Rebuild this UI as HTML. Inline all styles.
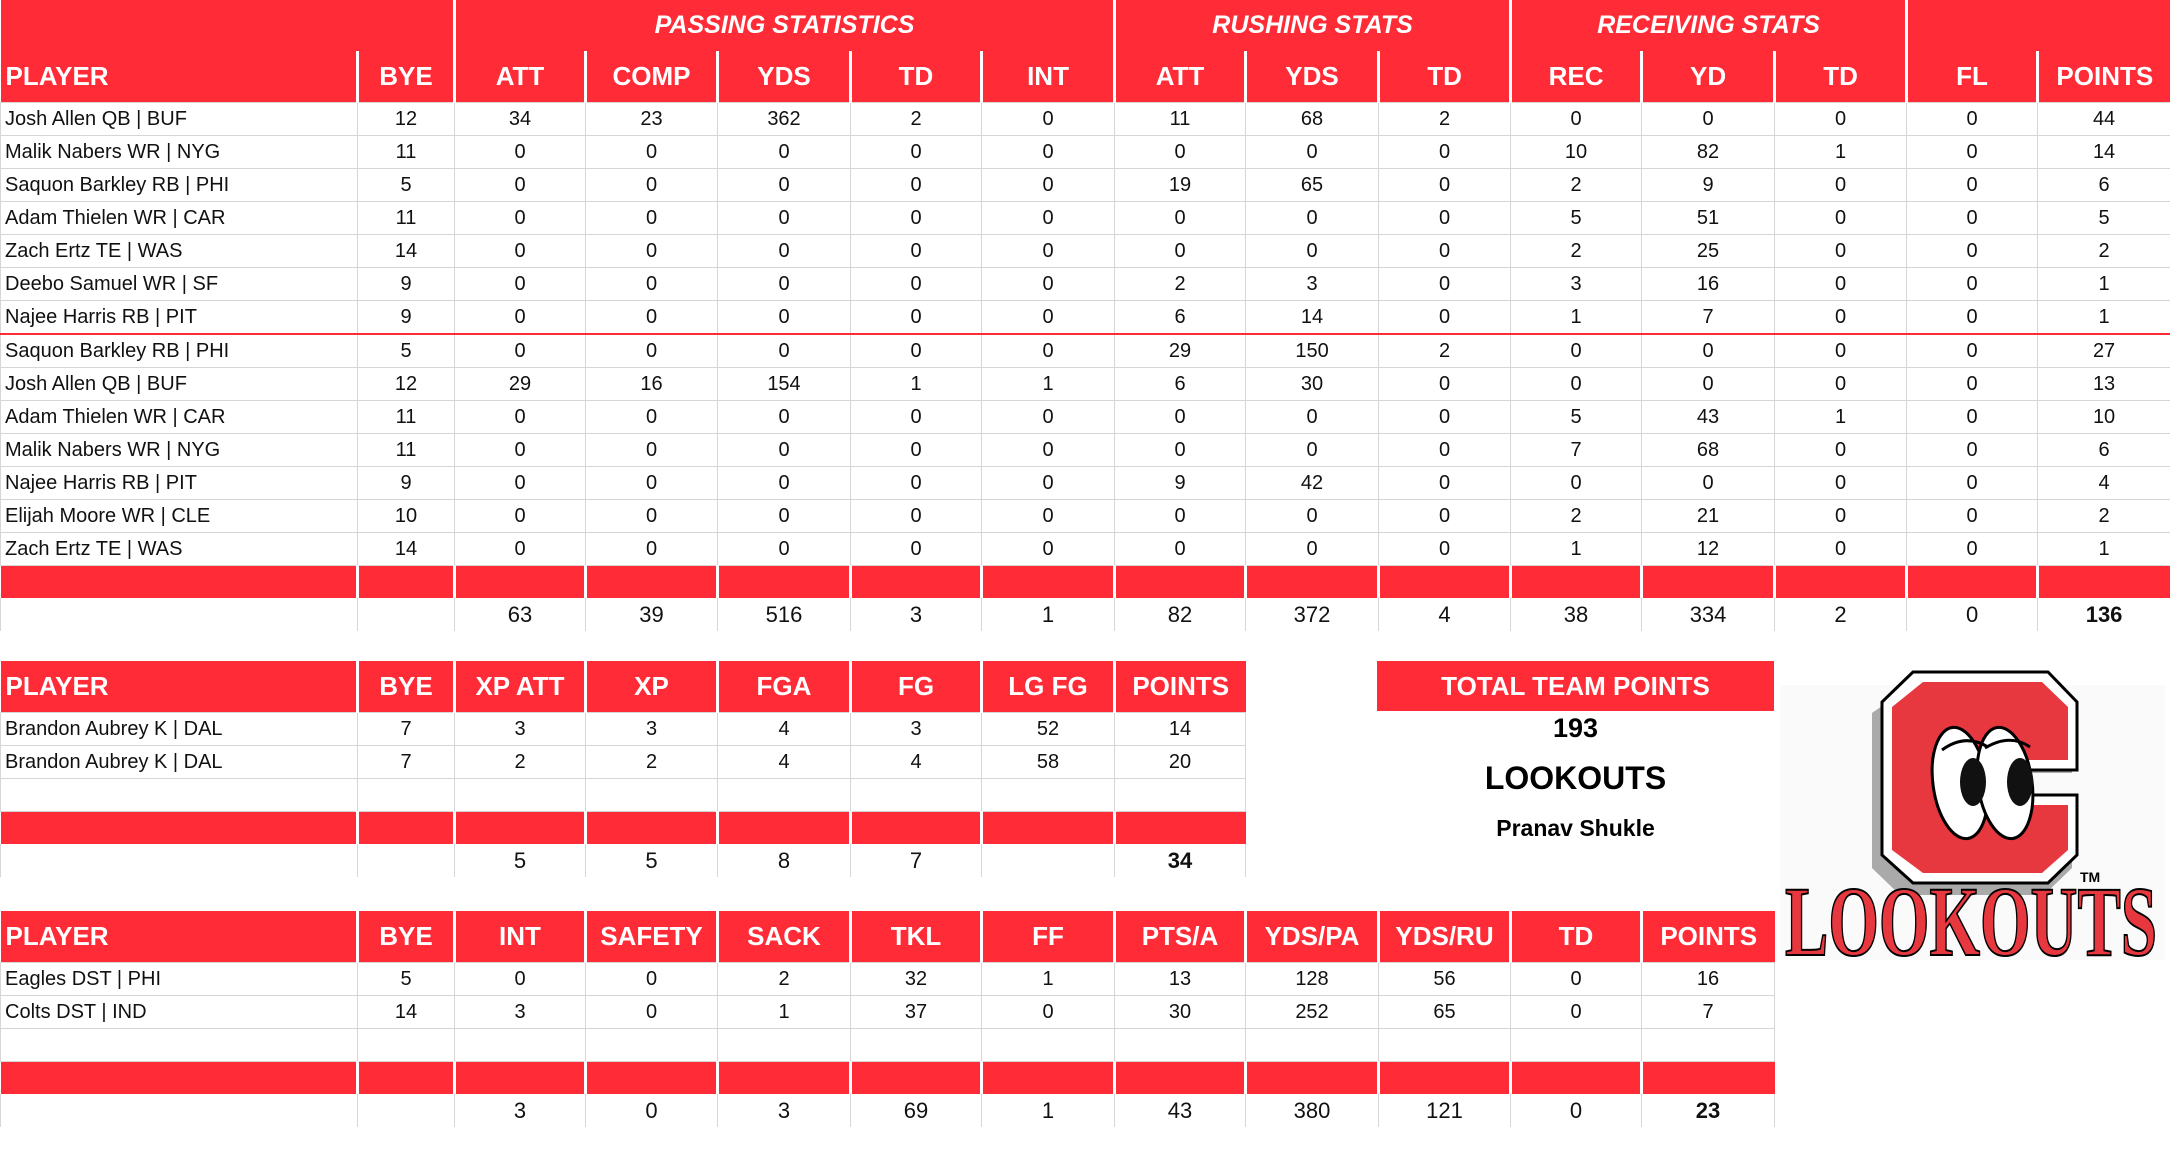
<!DOCTYPE html>
<html><head><meta charset="utf-8"><style>
body{margin:0;width:2170px;height:1158px;background:#fff;position:relative;overflow:hidden;font-family:"Liberation Sans",sans-serif;}
table{position:absolute;left:0;border-collapse:collapse;table-layout:fixed;}
td{padding:0;text-align:center;border:1px solid #d6d6d6;font-size:20px;color:#111;overflow:hidden;white-space:nowrap;}
tr.d td{height:32px;}
td.p{text-align:left;padding-left:4px;}
tr.sep td{border-bottom:2px solid #ff2b36;}
tr.g td{background:#ff2b36;color:#fff;font-weight:bold;font-style:italic;font-size:25px;height:51px;border:none;border-left:3px solid #fff;border-right:3px solid #fff;}
tr.h td{background:#ff2b36;color:#fff;font-weight:bold;font-size:26px;height:51px;border:none;border-left:3px solid #fff;border-right:3px solid #fff;}
tr.h td.p{text-align:left;padding-left:5px;}
tr.r td{background:#ff2b36;height:32px;border:none;border-left:3px solid #fff;border-right:3px solid #fff;}
tr.t td{height:33px;border-top:none;border-bottom:none;font-size:22px;}
td.b{font-weight:bold;}
tr.blank td{height:32px;}
.box{position:absolute;left:1377px;top:661px;width:397px;height:50px;background:#ff2b36;color:#fff;font-weight:bold;font-size:26px;text-align:center;line-height:50px;}
.tx{position:absolute;left:1377px;width:397px;text-align:center;font-weight:bold;color:#000;}
</style></head><body>
<table style="top:0;width:2170px">
<colgroup><col style="width:357px"><col style="width:97px"><col style="width:131px"><col style="width:132px"><col style="width:133px"><col style="width:131px"><col style="width:133px"><col style="width:131px"><col style="width:133px"><col style="width:132px"><col style="width:131px"><col style="width:133px"><col style="width:132px"><col style="width:131px"><col style="width:133px"></colgroup>
<tr class="g"><td colspan="2" style="border-left:none"></td><td colspan="5">PASSING STATISTICS</td><td colspan="3">RUSHING STATS</td><td colspan="3">RECEIVING STATS</td><td colspan="2" style="border-right:none"></td></tr>
<tr class="h"><td class="p" style="border-left:none">PLAYER</td><td>BYE</td><td>ATT</td><td>COMP</td><td>YDS</td><td>TD</td><td>INT</td><td>ATT</td><td>YDS</td><td>TD</td><td>REC</td><td>YD</td><td>TD</td><td>FL</td><td style="border-right:none">POINTS</td></tr>
<tr class="d"><td class="p">Josh Allen QB | BUF</td><td>12</td><td>34</td><td>23</td><td>362</td><td>2</td><td>0</td><td>11</td><td>68</td><td>2</td><td>0</td><td>0</td><td>0</td><td>0</td><td>44</td></tr>
<tr class="d"><td class="p">Malik Nabers WR | NYG</td><td>11</td><td>0</td><td>0</td><td>0</td><td>0</td><td>0</td><td>0</td><td>0</td><td>0</td><td>10</td><td>82</td><td>1</td><td>0</td><td>14</td></tr>
<tr class="d"><td class="p">Saquon Barkley RB | PHI</td><td>5</td><td>0</td><td>0</td><td>0</td><td>0</td><td>0</td><td>19</td><td>65</td><td>0</td><td>2</td><td>9</td><td>0</td><td>0</td><td>6</td></tr>
<tr class="d"><td class="p">Adam Thielen WR | CAR</td><td>11</td><td>0</td><td>0</td><td>0</td><td>0</td><td>0</td><td>0</td><td>0</td><td>0</td><td>5</td><td>51</td><td>0</td><td>0</td><td>5</td></tr>
<tr class="d"><td class="p">Zach Ertz TE | WAS</td><td>14</td><td>0</td><td>0</td><td>0</td><td>0</td><td>0</td><td>0</td><td>0</td><td>0</td><td>2</td><td>25</td><td>0</td><td>0</td><td>2</td></tr>
<tr class="d"><td class="p">Deebo Samuel WR | SF</td><td>9</td><td>0</td><td>0</td><td>0</td><td>0</td><td>0</td><td>2</td><td>3</td><td>0</td><td>3</td><td>16</td><td>0</td><td>0</td><td>1</td></tr>
<tr class="d sep"><td class="p">Najee Harris RB | PIT</td><td>9</td><td>0</td><td>0</td><td>0</td><td>0</td><td>0</td><td>6</td><td>14</td><td>0</td><td>1</td><td>7</td><td>0</td><td>0</td><td>1</td></tr>
<tr class="d"><td class="p">Saquon Barkley RB | PHI</td><td>5</td><td>0</td><td>0</td><td>0</td><td>0</td><td>0</td><td>29</td><td>150</td><td>2</td><td>0</td><td>0</td><td>0</td><td>0</td><td>27</td></tr>
<tr class="d"><td class="p">Josh Allen QB | BUF</td><td>12</td><td>29</td><td>16</td><td>154</td><td>1</td><td>1</td><td>6</td><td>30</td><td>0</td><td>0</td><td>0</td><td>0</td><td>0</td><td>13</td></tr>
<tr class="d"><td class="p">Adam Thielen WR | CAR</td><td>11</td><td>0</td><td>0</td><td>0</td><td>0</td><td>0</td><td>0</td><td>0</td><td>0</td><td>5</td><td>43</td><td>1</td><td>0</td><td>10</td></tr>
<tr class="d"><td class="p">Malik Nabers WR | NYG</td><td>11</td><td>0</td><td>0</td><td>0</td><td>0</td><td>0</td><td>0</td><td>0</td><td>0</td><td>7</td><td>68</td><td>0</td><td>0</td><td>6</td></tr>
<tr class="d"><td class="p">Najee Harris RB | PIT</td><td>9</td><td>0</td><td>0</td><td>0</td><td>0</td><td>0</td><td>9</td><td>42</td><td>0</td><td>0</td><td>0</td><td>0</td><td>0</td><td>4</td></tr>
<tr class="d"><td class="p">Elijah Moore WR | CLE</td><td>10</td><td>0</td><td>0</td><td>0</td><td>0</td><td>0</td><td>0</td><td>0</td><td>0</td><td>2</td><td>21</td><td>0</td><td>0</td><td>2</td></tr>
<tr class="d"><td class="p">Zach Ertz TE | WAS</td><td>14</td><td>0</td><td>0</td><td>0</td><td>0</td><td>0</td><td>0</td><td>0</td><td>0</td><td>1</td><td>12</td><td>0</td><td>0</td><td>1</td></tr>
<tr class="r"><td style="border-left:none"></td><td></td><td></td><td></td><td></td><td></td><td></td><td></td><td></td><td></td><td></td><td></td><td></td><td></td><td style="border-right:none"></td></tr>
<tr class="t"><td></td><td></td><td>63</td><td>39</td><td>516</td><td>3</td><td>1</td><td>82</td><td>372</td><td>4</td><td>38</td><td>334</td><td>2</td><td>0</td><td class="b">136</td></tr>
</table>

<table style="top:661px;width:1245px">
<colgroup><col style="width:357px"><col style="width:97px"><col style="width:131px"><col style="width:132px"><col style="width:133px"><col style="width:131px"><col style="width:133px"><col style="width:131px"></colgroup>
<tr class="h"><td class="p" style="border-left:none">PLAYER</td><td>BYE</td><td>XP ATT</td><td>XP</td><td>FGA</td><td>FG</td><td>LG FG</td><td style="border-right:none">POINTS</td></tr>
<tr class="d"><td class="p">Brandon Aubrey K | DAL</td><td>7</td><td>3</td><td>3</td><td>4</td><td>3</td><td>52</td><td>14</td></tr>
<tr class="d"><td class="p">Brandon Aubrey K | DAL</td><td>7</td><td>2</td><td>2</td><td>4</td><td>4</td><td>58</td><td>20</td></tr>
<tr class="d blank"><td></td><td></td><td></td><td></td><td></td><td></td><td></td><td></td></tr>
<tr class="r"><td style="border-left:none"></td><td></td><td></td><td></td><td></td><td></td><td></td><td style="border-right:none"></td></tr>
<tr class="t"><td></td><td></td><td>5</td><td>5</td><td>8</td><td>7</td><td></td><td class="b">34</td></tr>
</table>

<table style="top:911px;width:1774px">
<colgroup><col style="width:357px"><col style="width:97px"><col style="width:131px"><col style="width:132px"><col style="width:133px"><col style="width:131px"><col style="width:133px"><col style="width:131px"><col style="width:133px"><col style="width:132px"><col style="width:131px"><col style="width:133px"></colgroup>
<tr class="h"><td class="p" style="border-left:none">PLAYER</td><td>BYE</td><td>INT</td><td>SAFETY</td><td>SACK</td><td>TKL</td><td>FF</td><td>PTS/A</td><td>YDS/PA</td><td>YDS/RU</td><td>TD</td><td style="border-right:none">POINTS</td></tr>
<tr class="d"><td class="p">Eagles DST | PHI</td><td>5</td><td>0</td><td>0</td><td>2</td><td>32</td><td>1</td><td>13</td><td>128</td><td>56</td><td>0</td><td>16</td></tr>
<tr class="d"><td class="p">Colts DST | IND</td><td>14</td><td>3</td><td>0</td><td>1</td><td>37</td><td>0</td><td>30</td><td>252</td><td>65</td><td>0</td><td>7</td></tr>
<tr class="d blank"><td></td><td></td><td></td><td></td><td></td><td></td><td></td><td></td><td></td><td></td><td></td><td></td></tr>
<tr class="r"><td style="border-left:none"></td><td></td><td></td><td></td><td></td><td></td><td></td><td></td><td></td><td></td><td></td><td style="border-right:none"></td></tr>
<tr class="t"><td></td><td></td><td>3</td><td>0</td><td>3</td><td>69</td><td>1</td><td>43</td><td>380</td><td>121</td><td>0</td><td class="b">23</td></tr>
</table>

<div class="box">TOTAL TEAM POINTS</div>
<div class="tx" style="top:713px;font-size:27px">193</div>
<div class="tx" style="top:760px;font-size:32px">LOOKOUTS</div>
<div class="tx" style="top:815px;font-size:23px">Pranav Shukle</div>

<svg style="position:absolute;left:1780px;top:665px" width="385" height="300" viewBox="0 0 385 300">
<rect x="0" y="20" width="385" height="275" fill="#fafafa"/>
<polygon points="140,12 272,12 300,42 300,100 225,100 225,138 300,138 300,195 272,222 128,222 100,195 100,40" fill="#aaa" transform="translate(-8,8)"/>
<polygon points="133,7 268,7 297,37 297,105 226,105 226,130 297,130 297,190 268,218 133,218 102,190 102,37" fill="#fff" stroke="#000" stroke-width="3"/>
<polygon points="143,17 262,17 288,42 288,95 220,95 220,140 288,140 288,185 262,208 143,208 112,185 112,42" fill="#e8383f"/>
<ellipse cx="180" cy="118" rx="27" ry="56" fill="#fff" stroke="#000" stroke-width="3" transform="rotate(-8 180 118)"/>
<ellipse cx="225" cy="118" rx="27" ry="56" fill="#fff" stroke="#000" stroke-width="3" transform="rotate(-8 225 118)"/>
<ellipse cx="193" cy="117" rx="13" ry="24" fill="#111"/>
<ellipse cx="240" cy="117" rx="13" ry="24" fill="#111"/>
<path d="M162 85 Q185 68 208 82 M205 83 Q230 68 250 82" stroke="#000" stroke-width="3" fill="none"/>
<text x="300" y="217" font-family="Liberation Sans" font-weight="bold" font-size="14">TM</text>
<text x="5" y="290" font-family="Liberation Serif" font-weight="bold" font-size="100" fill="#e8383f" stroke="#000" stroke-width="2" textLength="372" lengthAdjust="spacingAndGlyphs">LOOKOUTS</text>
</svg>
</body></html>
